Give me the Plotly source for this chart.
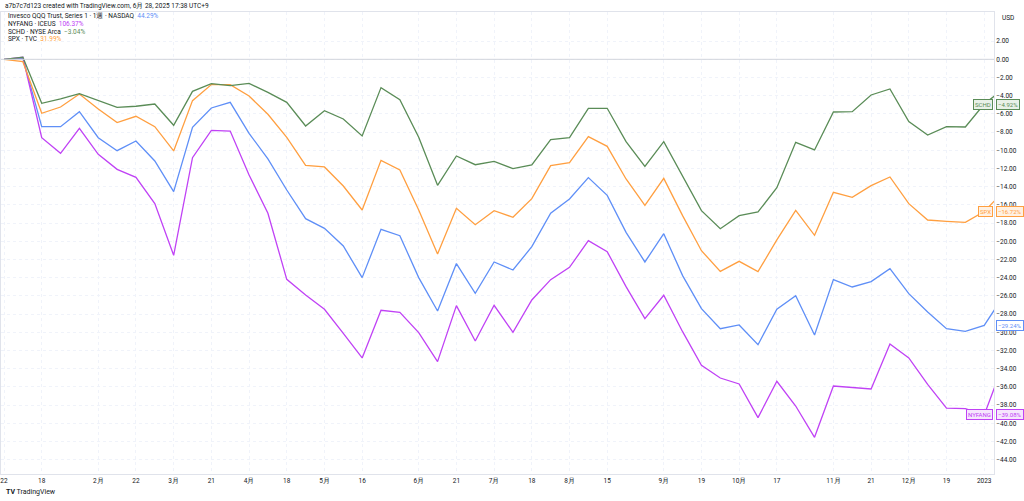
import plotly.graph_objects as go

# weekly index positions (0 = first week of 2022)
weeks = list(range(54))

schd = [0, 0.22, -4.84, -4.36, -3.77, -4.54, -5.27, -5.16, -4.91, -7.25,
        -3.52, -2.67, -2.89, -2.64, -3.63, -4.73, -7.33, -5.64, -6.56, -8.42,
        -3.11, -4.43, -8.57, -13.85, -10.62, -11.58, -11.21, -12.01, -11.61, -8.83,
        -8.61, -5.38, -5.38, -9.05, -11.76, -9.05, -12.89, -16.63, -18.61, -17.18,
        -16.78, -14.10, -9.12, -9.96, -5.79, -5.75, -3.92, -3.26, -6.85, -8.32,
        -7.40, -7.44, -4.92, -3.3]
spx = [0, -0.26, -5.93, -5.24, -3.81, -5.46, -6.96, -6.26, -7.40, -10.07,
       -4.54, -2.78, -2.78, -4.03, -6.04, -8.57, -11.65, -11.83, -13.92, -16.56,
       -11.10, -12.16, -16.56, -21.39, -16.37, -18.17, -16.63, -17.36, -15.31, -11.68,
       -11.36, -8.50, -9.56, -13.15, -16.04, -13.08, -17.18, -21.03, -23.30, -22.20,
       -23.33, -19.85, -16.59, -19.34, -14.62, -15.16, -13.88, -12.93, -15.86, -17.66,
       -17.80, -17.91, -16.72, -14.58]
qqq = [0, 0.11, -7.40, -7.40, -5.75, -8.61, -10.04, -8.97, -11.17, -14.54,
       -7.47, -5.35, -4.73, -8.13, -10.95, -14.36, -17.51, -18.57, -20.51, -23.99,
       -18.68, -19.38, -23.99, -27.66, -22.45, -25.71, -22.27, -23.15, -20.59, -16.92,
       -15.35, -13.00, -14.95, -19.01, -22.27, -19.16, -23.77, -27.40, -29.60, -29.19,
       -31.36, -27.47, -25.97, -30.29, -24.21, -25.02, -24.43, -23.00, -25.75, -27.77,
       -29.60, -29.89, -29.24, -26.08]
nyfang = [0, 0.22, -8.61, -10.33, -7.58, -10.44, -12.09, -12.97, -15.86, -21.54,
          -10.81, -7.80, -7.88, -12.71, -16.92, -24.18, -25.90, -27.47, -30.11, -32.82,
          -27.58, -27.80, -30.04, -33.22, -27.07, -30.95, -27.03, -30.00, -26.45, -24.21,
          -22.86, -19.93, -21.14, -24.98, -28.50, -25.93, -29.93, -33.63, -35.02, -35.68,
          -39.38, -35.38, -38.10, -41.54, -35.90, -36.04, -36.23, -31.28, -32.82, -35.71,
          -38.32, -38.39, -39.08, -33.59]

tick_pos = [0, 2, 5, 7, 9, 11, 13, 15, 17, 19, 22, 24, 26, 28, 30, 32, 35, 37, 39, 41, 44, 46, 48, 50, 52]
tick_text = ["22", "18", "2月", "22", "3月", "21", "4月", "18", "5月", "16", "6月", "21", "7月",
             "18", "8月", "15", "9月", "19", "10月", "17", "11月", "21", "12月", "19", "2023"]
y_ticks = list(range(2, -46, -2))

GREEN = "#5a8c57"
ORANGE = "#ff9f40"
BLUE = "#5f8ff7"
PURPLE = "#c042f5"
TXT = "#131722"
FONT = "Roboto"

fig = go.Figure()
for name, vals, col in [("QQQ", qqq, BLUE), ("NYFANG", nyfang, PURPLE),
                        ("SPX", spx, ORANGE), ("SCHD", schd, GREEN)]:
    fig.add_trace(go.Scatter(x=weeks, y=vals, mode="lines", name=name,
                             line=dict(color=col, width=1.3), showlegend=False))

# zero line
fig.add_hline(y=0, line=dict(color="#d1d4dc", width=1))

W, H = 1024, 501
L, R, T, B = 1, 30, 12, 27
PW, PH = W - L - R, H - T - B


def px(x):
    return (x - L) / PW


def py(y):
    return (H - B - y) / PH


ann = []
ann.append(dict(text="a7b7c7d123 created with TradingView.com, 6月 28, 2025 17:38 UTC+9",
                x=px(3), y=py(6), xref="paper", yref="paper", xanchor="left", yanchor="middle",
                showarrow=False, font=dict(size=6.5, color=TXT, family=FONT)))
legend_rows = [
    ("Invesco QQQ Trust, Series 1 · 1週 · NASDAQ", "44.29%", BLUE, 16.3),
    ("NYFANG · ICEUS", "106.37%", PURPLE, 24),
    ("SCHD · NYSE Arca", "−3.04%", GREEN, 31.7),
    ("SPX · TVC", "31.99%", ORANGE, 39),
]
for label, val, col, yy in legend_rows:
    ann.append(dict(text=f"{label}  <span style='color:{col}'>{val}</span>",
                    x=px(6), y=py(yy), xref="paper", yref="paper", xanchor="left", yanchor="middle",
                    showarrow=False, font=dict(size=6.5, color=TXT, family=FONT)))

ann.append(dict(text="USD", x=px(1000), y=py(18), xref="paper", yref="paper",
                xanchor="left", yanchor="middle", showarrow=False,
                font=dict(size=6.5, color=TXT, family=FONT)))
ann.append(dict(text="<b>TV</b> TradingView", x=px(4), y=py(492), xref="paper", yref="paper",
                xanchor="left", yanchor="middle", showarrow=False,
                font=dict(size=7, color=TXT, family=FONT)))

# last value labels
last = [("SCHD", schd[52], GREEN, "#e9f1e8", True),
        ("SPX", spx[52], ORANGE, "#fff1e2", True),
        ("QQQ", qqq[52], BLUE, "#ffffff", False),
        ("NYFANG", nyfang[52], PURPLE, "#f6e6fd", True)]
for name, v, col, bg, show_name in last:
    vt = f"{v:.2f}%".replace("-", "−")
    ann.append(dict(text=vt, x=px(996), y=v, xref="paper", yref="y",
                    xanchor="left", yanchor="middle", showarrow=False,
                    font=dict(size=6, color=col, family=FONT),
                    bgcolor=bg, bordercolor=col, borderwidth=1, borderpad=1))
    if show_name:
        ann.append(dict(text=name, x=px(993), y=v, xref="paper", yref="y",
                        xanchor="right", yanchor="middle", showarrow=False,
                        font=dict(size=6, color=col, family=FONT),
                        bgcolor=bg, bordercolor=col, borderwidth=1, borderpad=1))

fig.update_layout(
    width=W, height=H,
    margin=dict(l=L, r=R, t=T, b=B),
    paper_bgcolor="white", plot_bgcolor="white",
    font=dict(family=FONT, size=6.5, color=TXT),
    annotations=ann,
    hovermode=False,
)
fig.update_xaxes(range=[-0.16, 52.52], tickmode="array", tickvals=tick_pos, ticktext=tick_text,
                 showgrid=True, gridcolor="#f0f3fa", griddash="dot", gridwidth=1,
                 zeroline=False, showline=True, linecolor="#e0e3eb", mirror=True,
                 ticks="", tickfont=dict(size=6.5, color=TXT, family=FONT))
fig.update_yaxes(range=[-45.57, 5.2], side="right", tickmode="array", tickvals=y_ticks,
                 tickformat=".2f", ticksuffix="%",
                 showgrid=True, gridcolor="#f0f3fa", griddash="dot", gridwidth=1,
                 zeroline=False, showline=True, linecolor="#e0e3eb", mirror=True,
                 ticks="", tickfont=dict(size=6.5, color=TXT, family=FONT))

fig.write_html("out.html", config={"displayModeBar": False},
               post_script="document.body.style.margin='0px';document.body.style.overflow='hidden';")
